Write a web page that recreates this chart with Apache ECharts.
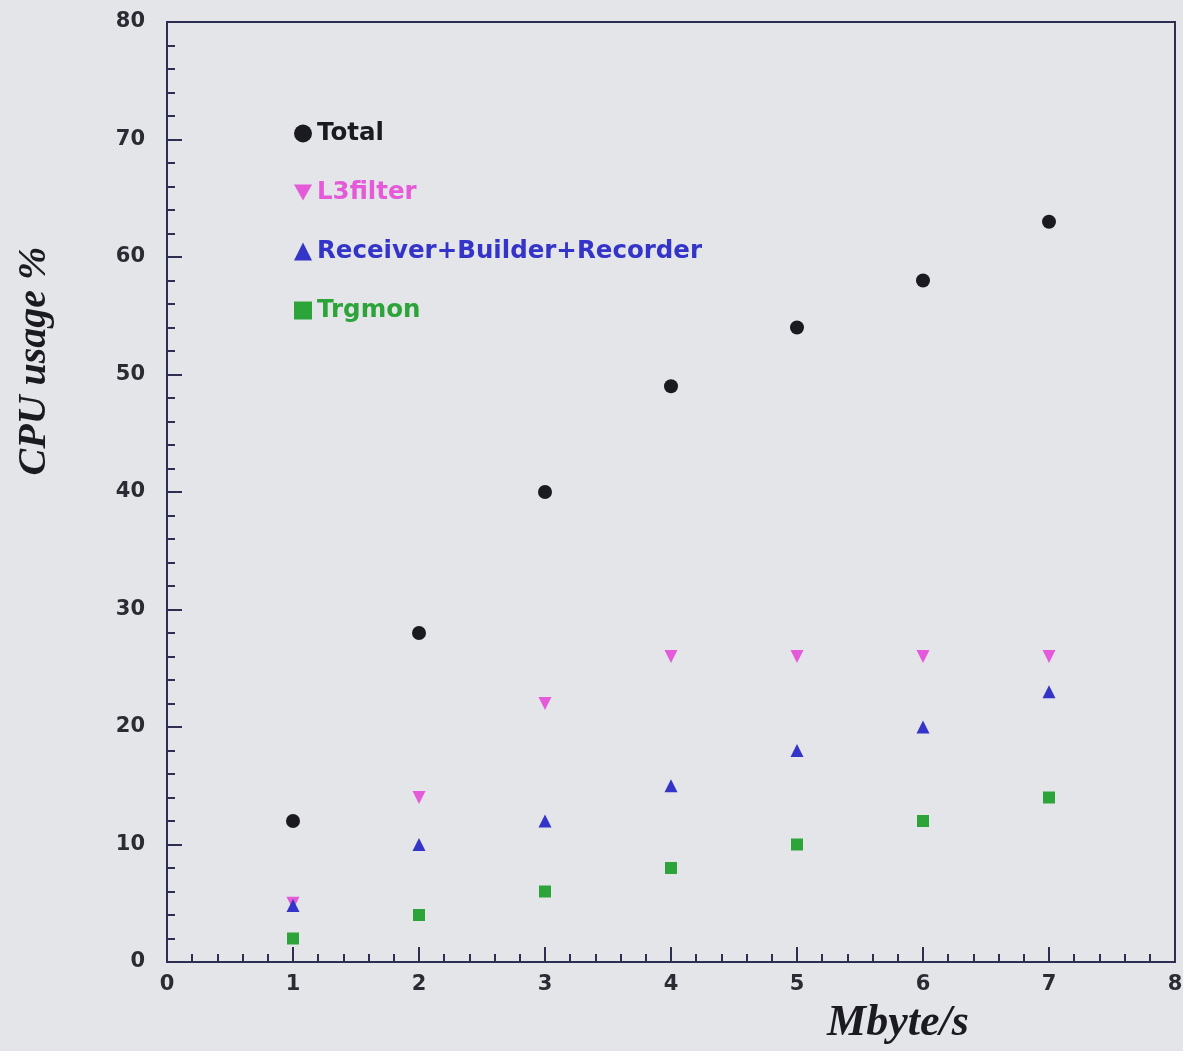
<!DOCTYPE html>
<html>
<head>
<meta charset="utf-8">
<script src="https://cdn.jsdelivr.net/npm/echarts@6/dist/echarts.min.js"></script>
<style>
  html, body { margin: 0; padding: 0; background: #e3e5e9; }
  #chart { width: 1183px; height: 1051px; }
</style>
</head>
<body>
<div id="chart"></div>
<script>
const rates = [1, 2, 3, 4, 5, 6, 7]
const total = [12, 28, 40, 49, 54, 58, 63]
const l3filter = [5, 14, 22, 26, 26, 26, 26]
const receiver = [4.8, 10, 12, 15, 18, 20, 23]
const trgmon = [2, 4, 6, 8, 10, 12, 14]

const pairs = vals => rates.map((x, i) => [x, vals[i]])

const chart = echarts.init(document.getElementById('chart'))

const tickLabel = {
  color: '#2b2b33',
  fontFamily: 'DejaVu Sans',
  fontWeight: 'bold',
  fontSize: 21
}
const axisColor = '#2e2e52'

chart.setOption({
  backgroundColor: '#e3e5e9',
  animation: false,
  grid: {
    left: 167, right: 8, top: 22, bottom: 89,
    outerBoundsMode: 'none',
    show: true,
    borderColor: axisColor,
    borderWidth: 2,
    backgroundColor: 'transparent'
  },
  legend: {
    orient: 'vertical',
    left: 289,
    top: 116,
    itemGap: 34,
    itemWidth: 18,
    itemHeight: 18,
    textStyle: { fontFamily: 'DejaVu Sans', fontWeight: 'bold', fontSize: 24.5 },
    data: [
      { name: 'Total', icon: 'circle', textStyle: { color: '#1a1a20' } },
      { name: 'L3filter', icon: 'path://M0,0 L10,0 L5,9 Z', textStyle: { color: '#e45ad8' } },
      { name: 'Receiver+Builder+Recorder', icon: 'triangle', textStyle: { color: '#3434c8' } },
      { name: 'Trgmon', icon: 'rect', textStyle: { color: '#2ca43a' } }
    ]
  },
  xAxis: {
    type: 'value',
    min: 0, max: 8, interval: 1,
    name: 'Mbyte/s',
    nameLocation: 'middle',
    nameGap: 40,
    nameTextStyle: {
      fontFamily: 'Liberation Serif', fontStyle: 'italic', fontWeight: 'bold',
      fontSize: 44, color: '#1a1a20', padding: [0, 0, 0, 454]
    },
    axisLine: { lineStyle: { color: axisColor, width: 2 } },
    axisTick: { inside: true, length: 15, lineStyle: { color: axisColor, width: 2 } },
    minorTick: { show: true, splitNumber: 5, length: 8, lineStyle: { color: axisColor, width: 2 } },
    splitLine: { show: false },
    axisLabel: Object.assign({ margin: 12 }, tickLabel)
  },
  yAxis: {
    type: 'value',
    min: 0, max: 80, interval: 10,
    name: 'CPU usage %',
    nameLocation: 'middle',
    nameGap: 112,
    nameRotate: 90,
    nameTextStyle: {
      fontFamily: 'Liberation Serif', fontStyle: 'italic', fontWeight: 'bold',
      fontSize: 40, color: '#1a1a20', padding: [0, 0, 0, 262]
    },
    axisLine: { lineStyle: { color: axisColor, width: 2 } },
    axisTick: { inside: true, length: 15, lineStyle: { color: axisColor, width: 2 } },
    minorTick: { show: true, splitNumber: 5, length: 8, lineStyle: { color: axisColor, width: 2 } },
    splitLine: { show: false },
    axisLabel: Object.assign({ margin: 22 }, tickLabel)
  },
  series: [
    {
      name: 'Total', type: 'scatter', data: pairs(total),
      symbol: 'circle', symbolSize: 14,
      itemStyle: { color: '#1a1a20', opacity: 1 }
    },
    {
      name: 'L3filter', type: 'scatter', data: pairs(l3filter),
      symbol: 'triangle', symbolRotate: 180, symbolSize: 13,
      itemStyle: { color: '#e45ad8', opacity: 1 }
    },
    {
      name: 'Receiver+Builder+Recorder', type: 'scatter', data: pairs(receiver),
      symbol: 'triangle', symbolSize: 13,
      itemStyle: { color: '#3434c8', opacity: 1 }
    },
    {
      name: 'Trgmon', type: 'scatter', data: pairs(trgmon),
      symbol: 'rect', symbolSize: 12,
      itemStyle: { color: '#2ca43a', opacity: 1 }
    }
  ]
})
</script>
</body>
</html>
